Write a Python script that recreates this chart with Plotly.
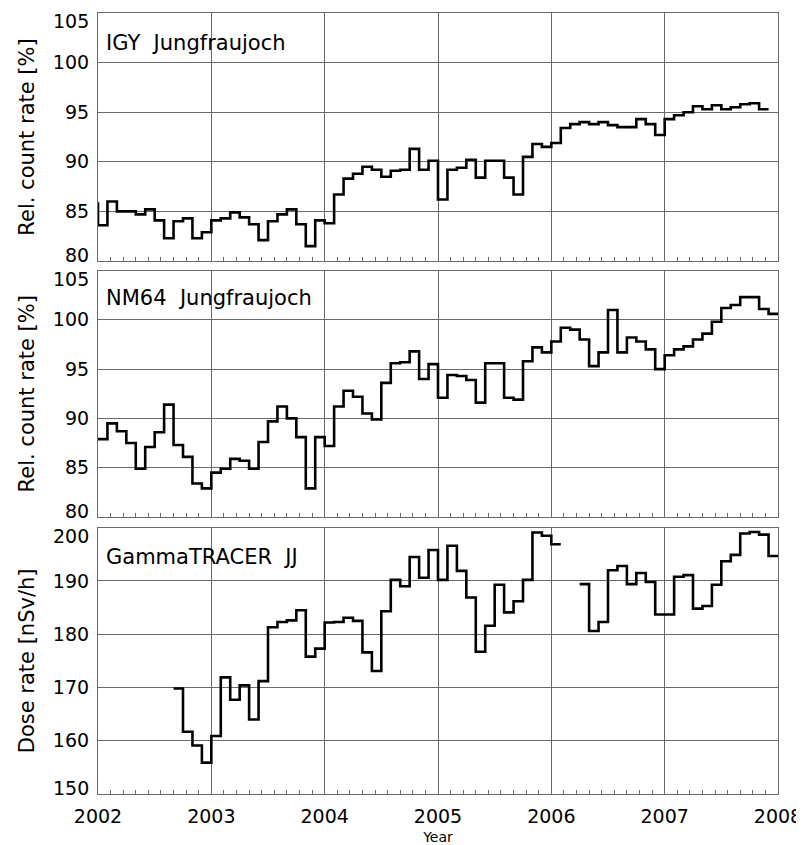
import plotly.graph_objects as go

# ---- data (monthly values, month starts from Jan 2002) ----
year_first, year_last = 2002, 2008

# IGY Jungfraujoch: Dec 2001 value followed by Jan 2002 ... Dec 2007
igy_start_month = -1
igy = [85.8,
       83.6, 86.0, 85.0, 85.0, 84.7, 85.2, 84.1, 82.3, 84.0, 84.3, 82.3, 82.9,
       84.1, 84.3, 84.9, 84.4, 83.7, 82.1, 84.0, 84.7, 85.2, 83.7, 81.5, 84.1,
       83.8, 86.7, 88.3, 88.8, 89.5, 89.2, 88.5, 89.1, 89.2, 91.3, 89.2, 90.1,
       86.2, 89.2, 89.4, 90.2, 88.4, 90.1, 90.1, 88.4, 86.7, 90.5, 91.8, 91.5,
       91.9, 93.4, 93.8, 94.0, 93.8, 94.0, 93.7, 93.5, 93.5, 94.3, 93.8, 92.7,
       94.3, 94.7, 95.0, 95.6, 95.3, 95.7, 95.3, 95.5, 95.8, 95.9, 95.3, None]

# NM64 Jungfraujoch: Jan 2002 ... Dec 2007
nm64_start_month = 0
nm64 = [87.9, 89.5, 88.7, 87.5, 84.9, 87.1, 88.6, 91.4, 87.3, 86.1, 83.4, 82.9,
        84.5, 84.9, 85.9, 85.7, 84.9, 87.6, 89.7, 91.2, 90.0, 88.1, 82.9, 88.1,
        87.2, 91.2, 92.8, 92.2, 90.5, 89.9, 93.6, 95.6, 95.7, 96.8, 94.0, 95.5,
        92.1, 94.4, 94.3, 93.9, 91.6, 95.6, 95.6, 92.1, 91.9, 95.8, 97.2, 96.7,
        97.8, 99.2, 99.0, 98.0, 95.3, 96.7, 101.0, 96.7, 98.2, 97.8, 97.0, 95.0,
        96.4, 97.0, 97.3, 98.0, 98.6, 99.8, 101.2, 101.5, 102.3, 102.3, 101.1, 100.6]

# GammaTRACER JJ dose rate [nSv/h]: Jan 2002 ... Dec 2007
gamma_start_month = 0
gamma = [None, None, None, None, None, None, None, None, 169.8, 161.7, 159.1, 155.9,
         160.9, 171.9, 167.7, 170.4, 164.0, 171.2, 181.3, 182.3, 182.6, 184.5, 175.8, 177.3,
         182.2, 182.3, 183.1, 182.5, 176.6, 173.1, 184.3, 190.2, 189.0, 194.5, 190.6, 195.8,
         190.2, 196.6, 191.9, 186.9, 176.7, 181.6, 189.3, 184.1, 186.2, 190.2, 199.1, 198.5,
         196.9, None, None, 189.4, 180.6, 182.3, 192.0, 192.8, 189.4, 191.5, 189.8, 183.7,
         183.7, 190.8, 191.1, 184.8, 185.3, 189.3, 193.7, 194.9, 198.9, 199.2, 198.7, 194.7]

panel_titles = ["IGY  Jungfraujoch", "NM64  Jungfraujoch", "GammaTRACER  JJ"]
y_titles = ["Rel. count rate [%]", "Rel. count rate [%]", "Dose rate [nSv/h]"]
y_ranges = [[80, 105], [80, 105], [150, 200]]
y_steps = [5, 5, 10]


def step_xy(start_month, values):
    """Month-start x positions (decimal years) with a closing point per run."""
    xs, ys = [], []
    prev = None
    n = len(values)
    for i, v in enumerate(values):
        x = year_first + (start_month + i) / 12.0
        if v is None:
            if prev is not None:
                xs.append(x); ys.append(prev)
                xs.append(None); ys.append(None)
            prev = None
        else:
            xs.append(x); ys.append(v)
            prev = v
    if prev is not None:
        xs.append(year_first + (start_month + n) / 12.0); ys.append(prev)
    return xs, ys


fig = go.Figure()
series = [(igy_start_month, igy), (nm64_start_month, nm64), (gamma_start_month, gamma)]
for k, (sm, vals) in enumerate(series):
    xs, ys = step_xy(sm, vals)
    suffix = "" if k == 0 else str(k + 1)
    fig.add_trace(go.Scatter(x=xs, y=ys, mode="lines", line=dict(shape="hv", color="black", width=2.6),
                             xaxis="x" + suffix, yaxis="y" + suffix, showlegend=False,
                             connectgaps=False, hoverinfo="skip"))

# page has an 8px body margin: figure is 796x837 so it fills the 804x845 window
W, H = 796, 837
plot_top, plot_bot = 13, 794          # screen pixels of the plot area
def py(pix):
    return (plot_bot - pix) / (plot_bot - plot_top)

domains = [[py(261), 1.0], [py(517), py(270.5)], [0.0, py(527.7)]]

font_family = "DejaVu Sans, Verdana, sans-serif"
grid_col = "#6a6a6a"
fs_tick = 19
fs_title = 21
fs_annot = 21
layout = dict(width=W, height=H, margin=dict(l=90, r=26, t=5, b=51, autoexpand=False),
              plot_bgcolor="white", paper_bgcolor="white",
              font=dict(family=font_family, color="black", size=fs_tick))

minor_ticks = dict(dtick=1/9, tick0=year_first, ticks="inside", ticklen=4,
                   tickcolor=grid_col, showgrid=False)

annotations = []
for k in range(3):
    suffix = "" if k == 0 else str(k + 1)
    xa = dict(domain=[0, 1], range=[year_first, year_last], anchor="y" + suffix,
              tickmode="linear", tick0=year_first, dtick=1, tickformat="d",
              showgrid=True, gridcolor=grid_col, gridwidth=1,
              showline=True, linecolor=grid_col, linewidth=1.2, mirror=True,
              ticks="inside", ticklen=4, tickcolor=grid_col, minor=minor_ticks,
              zeroline=False, showticklabels=(k == 2), automargin=False,
              tickfont=dict(size=fs_tick), ticklabelstandoff=5)
    if k == 2:
        xa["title"] = dict(text="Year", font=dict(size=14), standoff=7)
    else:
        xa["matches"] = "x3"
    # top-side copy of the x axis for the mirrored minor ticks
    xt = dict(domain=[0, 1], range=[year_first, year_last], anchor="y" + suffix,
              overlaying="x" + suffix, side="top", matches="x3",
              tickmode="linear", tick0=year_first, dtick=1,
              showgrid=False, showline=False, zeroline=False, showticklabels=False,
              ticks="inside", ticklen=4, tickcolor=grid_col, minor=minor_ticks,
              automargin=False)
    lo, hi = y_ranges[k]
    inner = list(range(lo + y_steps[k], hi, y_steps[k]))
    ya = dict(domain=domains[k], range=y_ranges[k], anchor="x" + suffix,
              tickmode="array", tickvals=[lo] + inner + [hi],
              ticktext=[""] + [str(v) for v in inner] + [""],
              showgrid=True, gridcolor=grid_col, gridwidth=1,
              showline=True, linecolor=grid_col, linewidth=1.2, mirror=True,
              ticks="", zeroline=False, tickfont=dict(size=fs_tick), automargin=False,
              ticklabelstandoff=4,
              title=dict(text=y_titles[k], font=dict(size=fs_title), standoff=12))
    layout["xaxis" + suffix] = xa
    layout["xaxis" + str(k + 4)] = xt
    layout["yaxis" + suffix] = ya
    # end labels nudged inward, as in the original
    for val, shift in ((lo, 6), (hi, -8)):
        annotations.append(dict(text=str(val), x=0, y=val, xref="paper", yref="y" + suffix,
                                xanchor="right", yanchor="middle", xshift=-7, yshift=shift,
                                showarrow=False, font=dict(size=fs_tick)))

annot_pix = [43, 298, 557]
for k in range(3):
    annotations.append(dict(text=panel_titles[k], x=0, y=py(annot_pix[k]), xshift=6,
                            xref="paper", yref="paper", xanchor="left", yanchor="middle",
                            showarrow=False, font=dict(size=fs_annot)))
layout["annotations"] = annotations

fig.update_layout(**layout)
fig.write_html("out.html")
